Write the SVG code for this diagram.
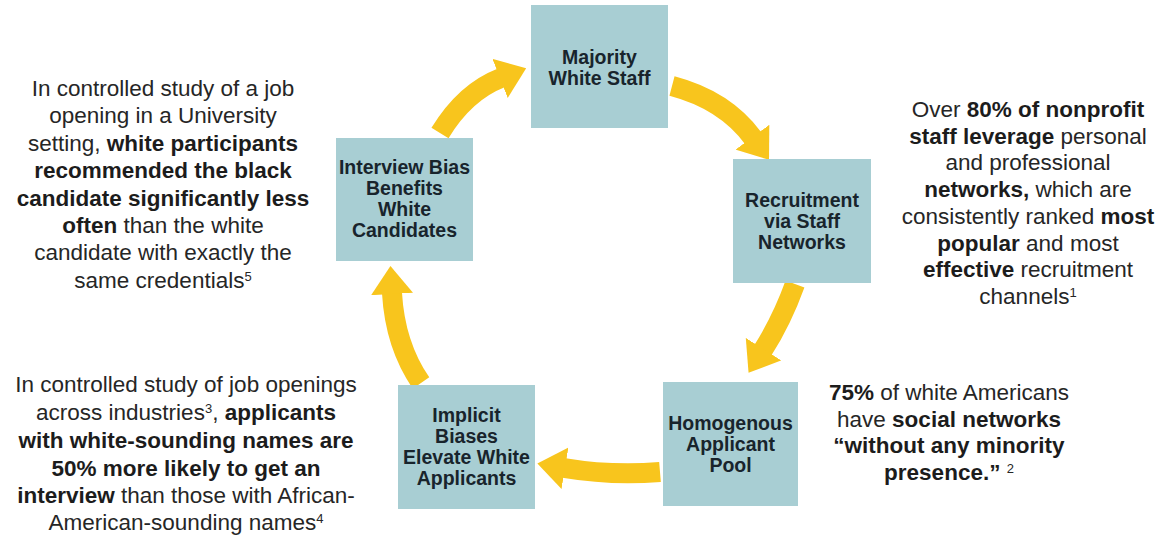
<svg xmlns="http://www.w3.org/2000/svg" width="1157" height="536" viewBox="0 0 1157 536">
  <style>
    .box { fill: #A8CED3; }
    .nodetxt { font-family: "Liberation Sans", Arial, sans-serif; font-size: 19.5px; font-weight: bold; fill: #18242c; text-anchor: middle; }
    .note { font-family: "Liberation Sans", Arial, sans-serif; font-size: 22.5px; fill: #262626; text-anchor: middle; }
    .b { font-weight: bold; fill: #1c1c1c; }
    .sup { font-size: 13px; baseline-shift: super; }
    .flow { fill: none; stroke: #F8C51D; stroke-width: 20; stroke-linecap: butt; marker-end: url(#head); }
  </style>
  <defs>
    <marker id="head" markerUnits="userSpaceOnUse" markerWidth="28" markerHeight="42" viewBox="0 0 28 42" refX="1" refY="21" orient="auto">
      <path d="M0,0 L28,21 L0,42 Z" fill="#F8C51D"/>
    </marker>
  </defs>
  <rect width="1157" height="536" fill="#ffffff"/>

  <!-- cycle connectors -->
  <g id="connectors">
    <path class="flow" d="M440,133 Q465,92 501,78"/>
    <path class="flow" d="M672,86 Q725,100 753,138"/>
    <path class="flow" d="M795,284 Q782,320 763,350"/>
    <path class="flow" d="M660,472 Q612,476 564,468"/>
    <path class="flow" d="M421,383 Q395,345 392,293"/>
  </g>

  <g id="node-majority">
    <rect class="box" x="531" y="5" width="137" height="123"/>
    <text class="nodetxt" x="599.5" y="64">Majority</text>
    <text class="nodetxt" x="599.5" y="85">White Staff</text>
  </g>

  <g id="node-recruitment">
    <rect class="box" x="733" y="159" width="138" height="124"/>
    <text class="nodetxt" x="802" y="207">Recruitment</text>
    <text class="nodetxt" x="802" y="228">via Staff</text>
    <text class="nodetxt" x="802" y="249">Networks</text>
  </g>

  <g id="node-homogenous">
    <rect class="box" x="663" y="382" width="135" height="124"/>
    <text class="nodetxt" x="730.5" y="430">Homogenous</text>
    <text class="nodetxt" x="730.5" y="451">Applicant</text>
    <text class="nodetxt" x="730.5" y="472">Pool</text>
  </g>

  <g id="node-implicit">
    <rect class="box" x="398" y="385" width="137" height="124"/>
    <text class="nodetxt" x="466.5" y="422">Implicit</text>
    <text class="nodetxt" x="466.5" y="443">Biases</text>
    <text class="nodetxt" x="466.5" y="464">Elevate White</text>
    <text class="nodetxt" x="466.5" y="485">Applicants</text>
  </g>

  <g id="node-interview">
    <rect class="box" x="336" y="138" width="137" height="123"/>
    <text class="nodetxt" x="404.5" y="174">Interview Bias</text>
    <text class="nodetxt" x="404.5" y="195">Benefits</text>
    <text class="nodetxt" x="404.5" y="216">White</text>
    <text class="nodetxt" x="404.5" y="237">Candidates</text>
  </g>

  <!-- supporting notes -->
  <g id="note-interview">
    <text class="note" x="163" y="96">In controlled study of a job</text>
    <text class="note" x="163" y="123.4">opening in a University</text>
    <text class="note" x="163" y="150.8">setting, <tspan class="b">white participants</tspan></text>
    <text class="note b" x="163" y="178.2">recommended the black</text>
    <text class="note b" x="163" y="205.6">candidate significantly less</text>
    <text class="note" x="163" y="233"><tspan class="b">often</tspan> than the white</text>
    <text class="note" x="163" y="260.4">candidate with exactly the</text>
    <text class="note" x="163" y="287.8">same credentials<tspan class="sup">5</tspan></text>
  </g>

  <g id="note-implicit">
    <text class="note" x="186" y="392">In controlled study of job openings</text>
    <text class="note" x="186" y="420">across industries<tspan class="sup">3</tspan>, <tspan class="b">applicants</tspan></text>
    <text class="note b" x="186" y="448">with white-sounding names are</text>
    <text class="note b" x="186" y="476">50% more likely to get an</text>
    <text class="note" x="186" y="503"><tspan class="b">interview</tspan> than those with African-</text>
    <text class="note" x="186" y="530">American-sounding names<tspan class="sup">4</tspan></text>
  </g>

  <g id="note-recruitment">
    <text class="note" x="1028" y="117">Over <tspan class="b">80% of nonprofit</tspan></text>
    <text class="note" x="1028" y="143.7"><tspan class="b">staff leverage</tspan> personal</text>
    <text class="note" x="1028" y="170.4">and professional</text>
    <text class="note" x="1028" y="197.1"><tspan class="b">networks,</tspan> which are</text>
    <text class="note" x="1028" y="223.8">consistently ranked <tspan class="b">most</tspan></text>
    <text class="note" x="1028" y="250.5"><tspan class="b">popular</tspan> and most</text>
    <text class="note" x="1028" y="277.2"><tspan class="b">effective</tspan> recruitment</text>
    <text class="note" x="1028" y="303.9">channels<tspan class="sup">1</tspan></text>
  </g>

  <g id="note-homogenous">
    <text class="note" x="949" y="400"><tspan class="b">75%</tspan> of white Americans</text>
    <text class="note" x="949" y="427">have <tspan class="b">social networks</tspan></text>
    <text class="note b" x="949" y="453">“without any minority</text>
    <text class="note" x="949" y="480"><tspan class="b">presence.”</tspan> <tspan class="sup">2</tspan></text>
  </g>
</svg>
